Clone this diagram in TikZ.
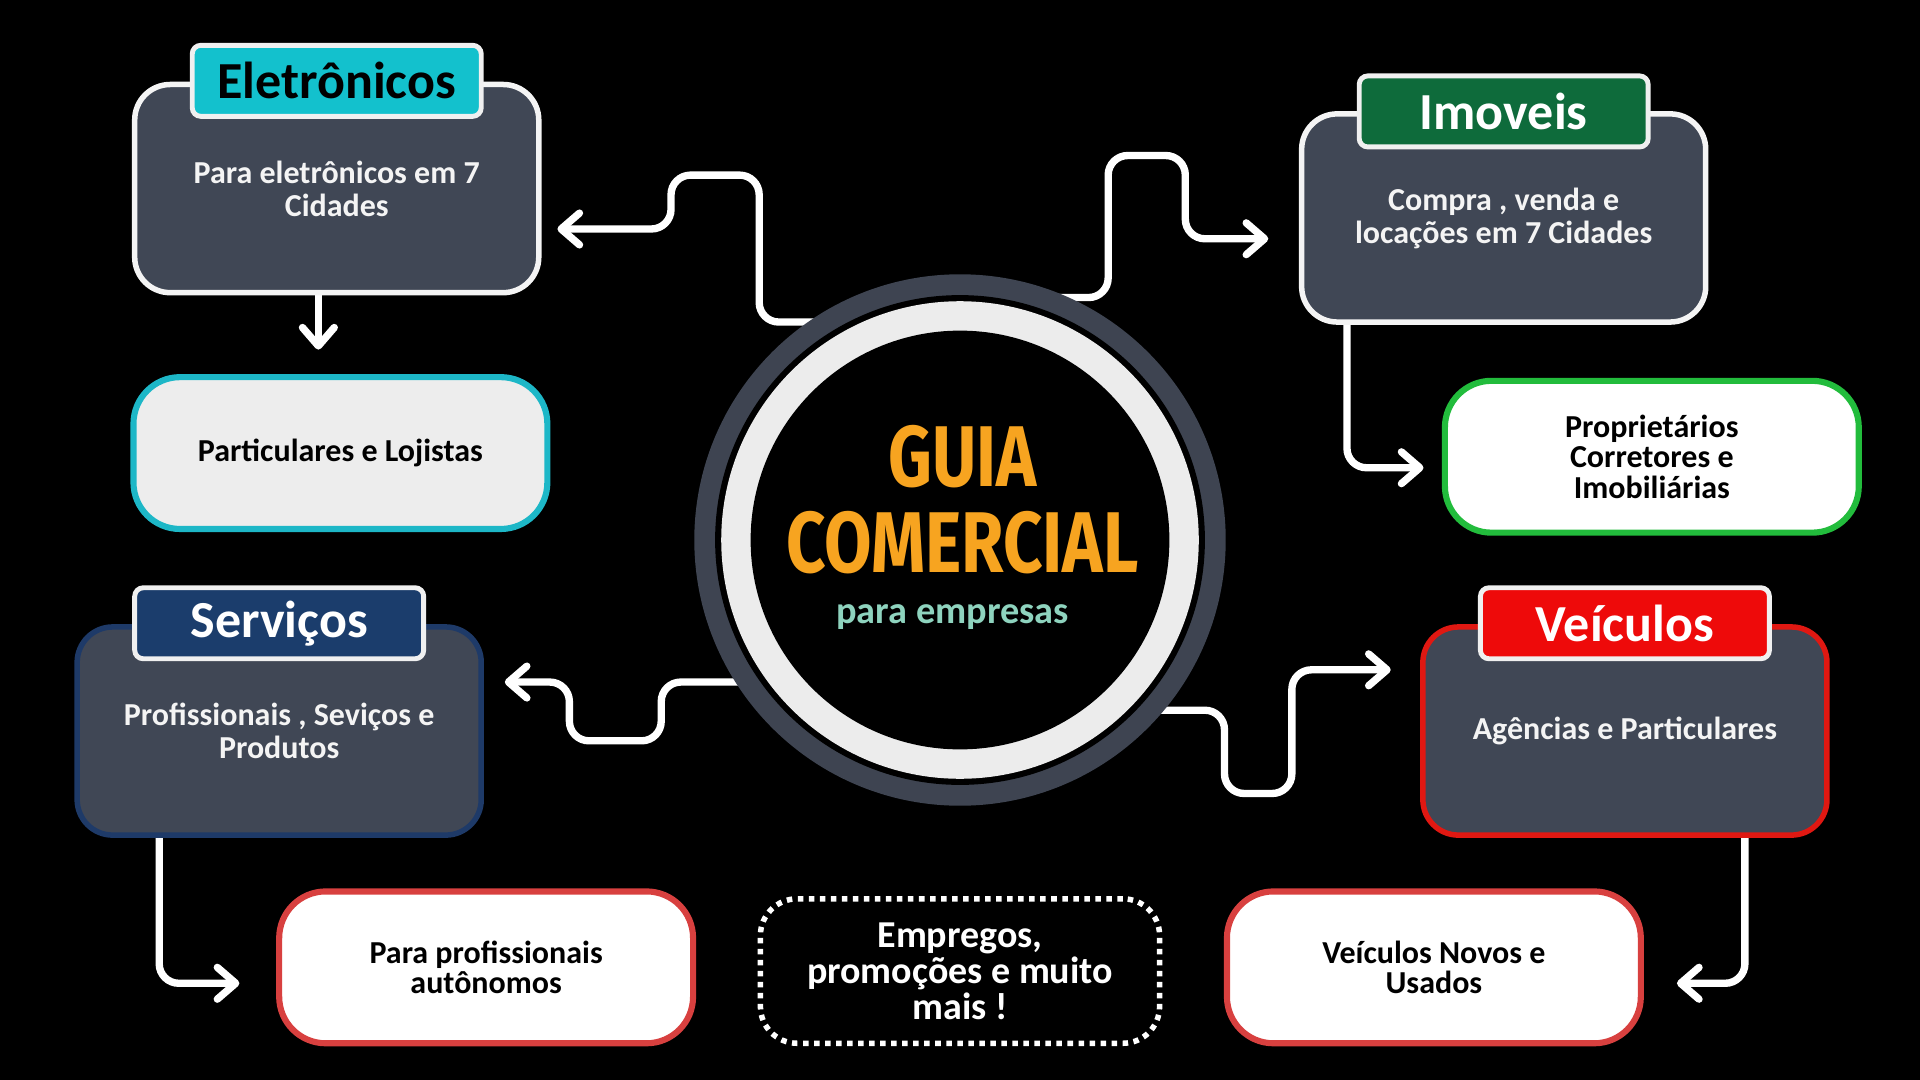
\documentclass[tikz,border=0pt]{standalone}
\usepackage{fontspec}
\usepackage{graphicx}
\setmainfont{Carlito}
\newfontfamily\headfont{Fira Sans}
\usetikzlibrary{arrows.meta}
\newlength\U \setlength\U{0.61224pt}
\pgfdeclarelayer{bgzero}
\pgfdeclarelayer{background}
\pgfsetlayers{bgzero,background,main}
\definecolor{slate}{HTML}{404755}
\definecolor{cyanT}{HTML}{13C1CD}
\definecolor{cyanB}{HTML}{1DB7C7}
\definecolor{greenT}{HTML}{0E6B3B}
\definecolor{greenB}{HTML}{22BC3C}
\definecolor{navyT}{HTML}{1B3D6C}
\definecolor{navyB}{HTML}{1E3A68}
\definecolor{redT}{HTML}{EE0A0A}
\definecolor{redB}{HTML}{E01812}
\definecolor{redL}{HTML}{D8403F}
\definecolor{ringgray}{HTML}{3E4451}
\definecolor{ringlight}{HTML}{ECECEC}
\definecolor{orangeT}{HTML}{F7A420}
\definecolor{mint}{HTML}{8ED3BE}
\definecolor{offwhite}{HTML}{F4F4F4}
\definecolor{lightfill}{HTML}{EDEDED}
\definecolor{tabedge}{HTML}{F0F0F0}
\begin{document}
\begin{tikzpicture}[x=0.61224pt,y=-0.61224pt,
  mainbox/.style={draw, line width=4.5\U, rounded corners=29\U, fill=slate,
    minimum width=330\U, minimum height=170\U, text=offwhite, align=center,
    inner sep=0pt, font=\bfseries\fontsize{16}{16.5}\selectfont},
  tabbox/.style={draw=tabedge, line width=4\U, rounded corners=7\U,
    minimum width=236\U, minimum height=58\U, inner sep=0pt,
    font=\bfseries\fontsize{26}{28}\selectfont},
  subbox/.style={draw, line width=5\U, rounded corners=38\U,
    minimum width=338\U, minimum height=124\U, inner sep=0pt, align=center,
    text=black, font=\bfseries\fontsize{16}{15.3}\selectfont},
  link/.style={draw=white, line width=6\U, rounded corners=16\U,
    -{Straight Barb[length=9.2pt,width=15.9pt,round]}}
]
\begin{pgfonlayer}{bgzero}
\fill[black] (0,0) rectangle (1568,882);
\end{pgfonlayer}
\useasboundingbox (0,0) rectangle (1568,882);

% hub
\node[circle, fill=ringgray, minimum size=434\U, inner sep=0pt] (hub) at (784,441) {};
\fill[black] (hub.center) circle[radius=200\U];
\fill[ringlight] (hub.center) circle[radius=195\U];
\fill[black] (hub.center) circle[radius=171\U];
\node[text=orangeT, inner sep=0pt] (guia) at (786,373)
  {\resizebox{121\U}{50\U}{\headfont\bfseries GUIA}};
\node[text=orangeT, inner sep=0pt] (comercial) at (786,443)
  {\resizebox{288\U}{50\U}{\headfont\bfseries COMERCIAL}};
\node[text=mint, inner sep=0pt] (empresas) at (778,504)
  {\resizebox{190\U}{!}{\bfseries\fontsize{18}{20}\selectfont para empresas}};

% main boxes and tabs
\node[mainbox, draw=offwhite] (ebox) at (275,154) {Para eletrônicos em 7\\Cidades\hspace*{0pt}};
\node[tabbox, fill=cyanT, text=black] (etab) at (275,66) {Eletrônicos};
\node[mainbox, draw=offwhite] (ibox) at (1228,178) {Compra , venda e\\locações em 7 Cidades};
\node[tabbox, fill=greenT, text=white] (itab) at (1228,91) {Imoveis};
\node[mainbox, draw=navyB] (sbox) at (228,597) {Profissionais , Seviços e\\Produtos};
\node[tabbox, fill=navyT, text=white] (stab) at (228,509) {Serviços};
\node[mainbox, draw=redB] (vbox) at (1327,597) {Agências e Particulares};
\node[tabbox, fill=redT, text=white] (vtab) at (1327,509) {Veículos};

% sub boxes
\node[subbox, draw=cyanB, fill=lightfill] (pbox) at (278,370) {Particulares e Lojistas};
\node[subbox, draw=greenB, fill=white] (prbox) at (1349,373) {Proprietários\\Corretores e\\Imobiliárias};
\node[subbox, draw=redL, fill=white] (ppbox) at (397,790) {Para profissionais\\autônomos};
\node[subbox, draw=redL, fill=white] (vnbox) at (1171,790) {Veículos Novos e\\Usados};
\node[draw=white, line width=4.5\U, dash pattern=on 4.5\U off 4.5\U,
  rounded corners=30\U, minimum width=326\U, minimum height=118\U,
  fill=black, text=white, align=center, inner sep=0pt,
  font=\bfseries\fontsize{19}{18}\selectfont] (emp) at (784,793)
  {Empregos,\\promoções e muito\\mais !};

% connectors
\begin{pgfonlayer}{background}
\draw[link, shorten >=13\U] (hub.center |- 0,263) -- (620,263) -- (620,143) -- (548,143)
  -- (548,187) -- (ebox.east |- 0,187);
\draw[link, shorten >=25\U] (hub.center |- 0,243) -- (905,243) -- (905,127) -- (968,127)
  -- (968,195) -- (ibox.west |- 0,195);
\draw[link, shorten >=17\U] (hub.center |- 0,557) -- (540,557) -- (540,605) -- (465,605)
  -- (465,557) -- (sbox.east |- 0,557);
\draw[link, shorten >=24\U] (hub.center |- 0,580) -- (1000,580) -- (1000,648) -- (1055,648)
  -- (1055,547) -- (vbox.west |- 0,547);
\draw[link, shorten >=20\U] (ebox.south -| 260,0) -- (pbox.north -| 260,0);
\draw[link, shorten >=15\U] (ibox.south -| 1100,0) -- (1100,382) -- (prbox.west |- 0,382);
\draw[link, shorten >=30\U] (sbox.south -| 130,0) -- (130,803) -- (ppbox.west |- 0,803);
\draw[link, shorten >=27\U] (vbox.south -| 1425,0) -- (1425,803) -- (vnbox.east |- 0,803);
\end{pgfonlayer}
\end{tikzpicture}
\end{document}
